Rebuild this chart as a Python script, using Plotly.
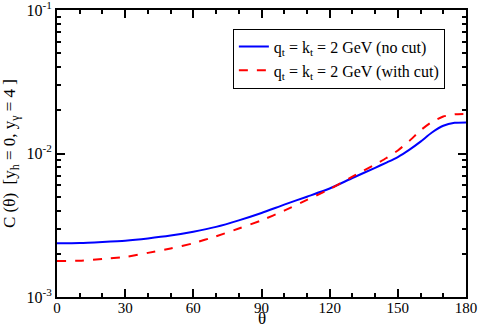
import plotly.graph_objects as go

theta = [0, 10, 20, 30, 40, 50, 60, 70, 80, 90, 100, 110, 120, 130, 140, 145, 150, 155, 160, 165, 170, 175, 180]
c_no_cut = [2.37e-3, 2.38e-3, 2.42e-3, 2.47e-3, 2.56e-3, 2.68e-3, 2.85e-3, 3.08e-3, 3.42e-3, 3.85e-3,
            4.4e-3, 5.0e-3, 5.7e-3, 6.75e-3, 7.95e-3, 8.65e-3, 9.45e-3, 1.06e-2, 1.21e-2, 1.4e-2,
            1.56e-2, 1.635e-2, 1.645e-2]
c_with_cut = [1.78e-3, 1.79e-3, 1.84e-3, 1.9e-3, 2.03e-3, 2.18e-3, 2.37e-3, 2.65e-3, 3.0e-3, 3.42e-3,
              4.0e-3, 4.75e-3, 5.65e-3, 6.9e-3, 8.4e-3, 9.3e-3, 1.05e-2, 1.22e-2, 1.45e-2, 1.66e-2,
              1.81e-2, 1.875e-2, 1.89e-2]

x_ticks = [0, 30, 60, 90, 120, 150, 180]
y_ticks = [1e-3, 1e-2, 1e-1]
y_labels = ["10<sup>-3</sup>", "10<sup>-2</sup>", "10<sup>-1</sup>"]
y_minor = [m * 10.0 ** e for e in (-3, -2) for m in range(2, 10)]

font = "Liberation Serif"

fig = go.Figure()
fig.add_trace(go.Scatter(
    x=theta, y=c_no_cut, mode="lines", line_shape="spline", line_smoothing=0.6,
    line=dict(color="#0000ff", width=2),
    name="q<sub>t</sub> = k<sub>t</sub> = 2 GeV (no cut)"
))
fig.add_trace(go.Scatter(
    x=theta, y=c_with_cut, mode="lines", line_shape="spline", line_smoothing=0.6,
    line=dict(color="#ff0000", width=2, dash="dash"),
    name="q<sub>t</sub> = k<sub>t</sub> = 2 GeV (with cut)"
))

axis_common = dict(
    showline=True, linecolor="black", linewidth=2, mirror="allticks",
    ticks="inside", ticklen=8, tickwidth=2, tickcolor="black",
    showgrid=False, zeroline=False, automargin=False, ticklabeloverflow="allow",
)

fig.update_xaxes(
    range=[0, 180], tickvals=x_ticks, ticklabelstandoff=-4,
    tickfont=dict(family=font, size=15, color="black"),
    minor=dict(ticks="inside", ticklen=4, tickwidth=1.5, tickcolor="black", dtick=10, tick0=0),
    **axis_common
)
fig.update_yaxes(
    type="log", range=[-3, -1], tickvals=y_ticks, ticktext=y_labels,
    tickfont=dict(family=font, size=16, color="black"),
    minor=dict(ticks="inside", ticklen=4, tickwidth=1.5, tickcolor="black", tickvals=y_minor),
    title=dict(text="C (θ)  [y<sub>h</sub> = 0, y<sub>γ</sub> = 4 ]",
               font=dict(family=font, size=17, color="black"), standoff=8),
    **axis_common
)

# x-axis title placed as an annotation so it sits under the tick labels
fig.add_annotation(
    text="θ", x=0.5, y=0, xref="paper", yref="paper",
    xanchor="center", yanchor="bottom", yshift=-33, showarrow=False,
    font=dict(family=font, size=17, color="black"),
)

fig.update_layout(
    width=480, height=330,
    margin=dict(l=57, r=14, t=10, b=33),
    paper_bgcolor="white", plot_bgcolor="white",
    font=dict(family=font, size=16, color="black"),
    showlegend=True,
    legend=dict(
        x=0.43, y=0.935, xanchor="left", yanchor="top",
        bgcolor="white", bordercolor="black", borderwidth=1,
        font=dict(family=font, size=16, color="black"),
        tracegroupgap=0, itemwidth=30,
    ),
)

fig.write_html("out.html", config={"displayModeBar": False},
               post_script="document.body.style.margin='0';")
